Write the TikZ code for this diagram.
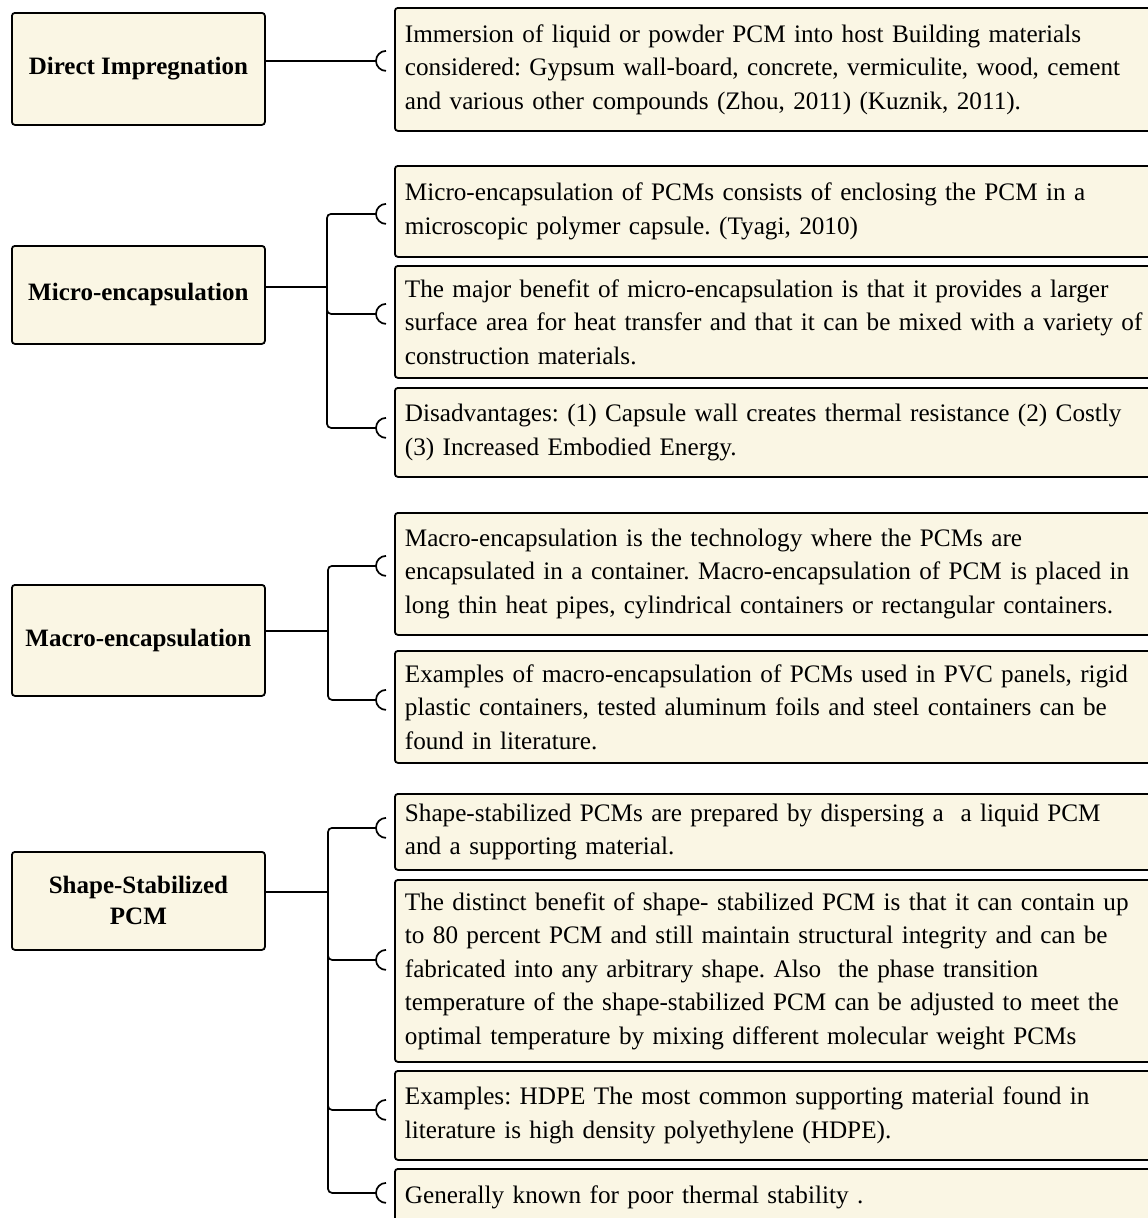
\documentclass[tikz,border=0pt]{standalone}
\usepackage{fontspec}
\setmainfont{Liberation Serif}
\usetikzlibrary{calc,positioning}
\definecolor{boxcream}{HTML}{FAF6E4}

\begin{document}
\frenchspacing
\begin{tikzpicture}[x=1pt,y=-1pt,
  catbox/.style={draw,line width=1.8pt,fill=boxcream,rounded corners=3pt,anchor=north west,
    minimum width=253pt,inner sep=0pt,align=center,font=\fontsize{25}{31}\selectfont\bfseries},
  infobox/.style={draw,line width=1.8pt,fill=boxcream,rounded corners=3pt,anchor=north west,
    text width=800pt,inner xsep=10pt,inner ysep=0pt,align=left,font=\fontsize{25.2}{33.5}\selectfont},
  link/.style={line width=1.7pt}]
\path[use as bounding box,clip] (0,0) rectangle (1148,1218);

% categories
\node[catbox,minimum height=112pt] (direct) at (11,12) {Direct Impregnation};
\node[catbox,minimum height=98pt] (micro) at (11,245) {Micro-encapsulation};
\node[catbox,minimum height=111pt] (macro) at (11,584) {Macro-encapsulation};
\node[catbox,minimum height=98pt] (shape) at (11,851) {Shape-Stabilized\\PCM};

% descriptions
\node[infobox,minimum height=123pt] (i1) at (394,7) {Immersion of liquid or powder PCM into host Building materials\\considered: Gypsum wall-board, concrete, vermiculite, wood, cement\\and various other compounds (Zhou, 2011) (Kuznik, 2011).};
\node[infobox,minimum height=91pt] (i2) at (394,165) {Micro-encapsulation of PCMs consists of enclosing the PCM in a\\microscopic polymer capsule. (Tyagi, 2010)};
\node[infobox,minimum height=112pt] (i3) at (394,265) {The major benefit of micro-encapsulation is that it provides a larger\\surface area for heat transfer and that it can be mixed with a variety of\\construction materials.};
\node[infobox,minimum height=89pt] (i4) at (394,387) {Disadvantages: (1) Capsule wall creates thermal resistance (2) Costly\\(3) Increased Embodied Energy.};
\node[infobox,minimum height=122pt] (i5) at (394,512) {Macro-encapsulation is the technology where the PCMs are\\encapsulated in a container. Macro-encapsulation of PCM is placed in\\long thin heat pipes, cylindrical containers or rectangular containers.};
\node[infobox,minimum height=112pt] (i6) at (394,650) {Examples of macro-encapsulation of PCMs used in PVC panels, rigid\\plastic containers, tested aluminum foils and steel containers can be\\found in literature.};
\node[infobox,minimum height=76pt] (i7) at (394,793) {Shape-stabilized PCMs are prepared by dispersing a\ \ a liquid PCM\\and a supporting material.};
\node[infobox,minimum height=182pt] (i8) at (394,879) {The distinct benefit of shape- stabilized PCM is that it can contain up\\to 80 percent PCM and still maintain structural integrity and can be\\fabricated into any arbitrary shape. Also\ \ the phase transition\\temperature of the shape-stabilized PCM can be adjusted to meet the\\optimal temperature by mixing different molecular weight PCMs};
\node[infobox,minimum height=89pt] (i9) at (394,1070) {Examples: HDPE The most common supporting material found in\\literature is high density polyethylene (HDPE).};
\node[infobox,minimum height=56pt] (i10) at (394,1168) {Generally known for poor thermal stability .};

% branch ends and junctions
\foreach \n/\d in {1/-8.5,2/2.5,3/-8,4/-4.5,5/-8,6/-7,7/-4,8/-11,9/-5.5,10/-4}
  \coordinate (b\n) at ($(i\n.west)+(-18,\d)$);
\coordinate (mj) at (327,287);
\coordinate (aj) at (328,631);
\coordinate (sj) at (328,892);

% connectors
\draw[link] (direct.east |- b1) -- (b1);
\draw[link] (micro.east |- mj) -- (mj);
\draw[link] (macro.east |- aj) -- (aj);
\draw[link] (shape.east |- sj) -- (sj);
\foreach \n in {2,3,4} \draw[link,rounded corners=4pt] (mj) |- (b\n);
\foreach \n in {5,6} \draw[link,rounded corners=4pt] (aj) |- (b\n);
\foreach \n in {7,...,10} \draw[link,rounded corners=4pt] (sj) |- (b\n);
\foreach \n in {1,...,10}
  \draw[link] ($(b\n)+(10,-10)$) arc[start angle=90,end angle=270,radius=10pt];
\end{tikzpicture}
\end{document}
